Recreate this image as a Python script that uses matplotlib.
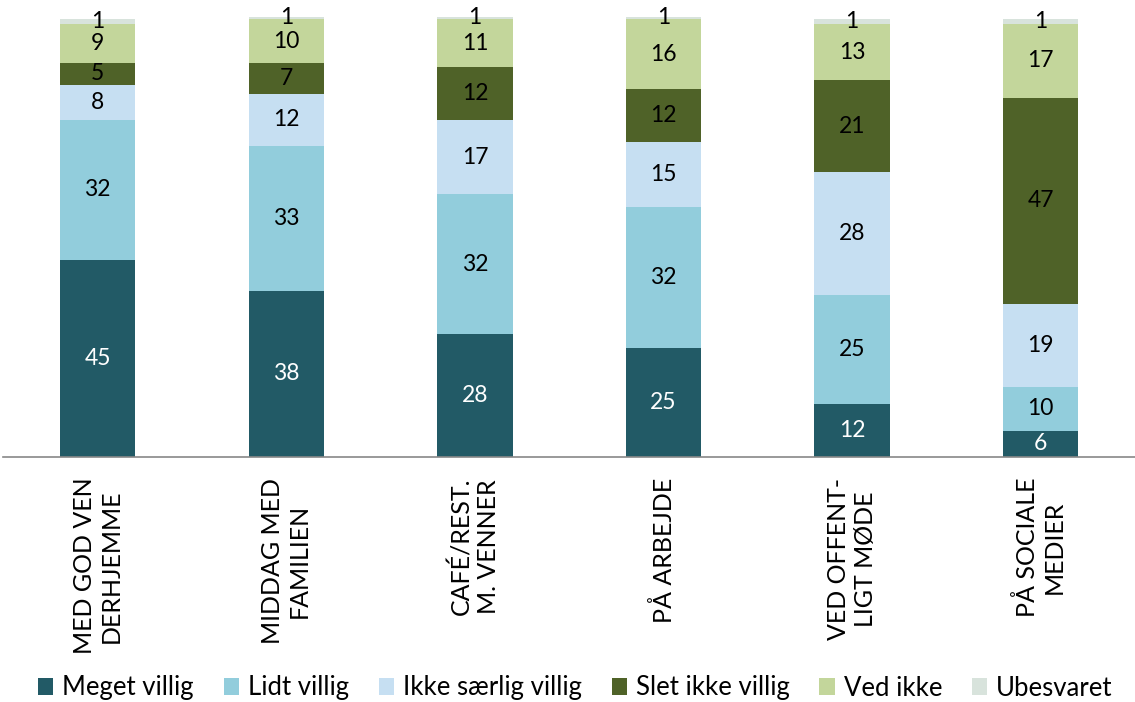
import numpy as np
import matplotlib.pyplot as plt

categories = ["MED GOD VEN\nDERHJEMME", "MIDDAG MED\nFAMILIEN", "CAFÉ/REST.\nM. VENNER",
              "PÅ ARBEJDE", "VED OFFENT-\nLIGT MØDE", "PÅ SOCIALE\nMEDIER"]
series = ["Meget villig", "Lidt villig", "Ikke særlig villig", "Slet ikke villig", "Ved ikke", "Ubesvaret"]
meget = [45, 38, 28, 25, 12, 6]
lidt = [32, 33, 32, 32, 25, 10]
ikke_saerlig = [8, 12, 17, 15, 28, 19]
slet_ikke = [5, 7, 12, 12, 21, 47]
ved_ikke = [9, 10, 11, 16, 13, 17]
ubesvaret = [1, 1, 1, 1, 1, 1]

colors = ["#225A66", "#92CDDC", "#C6DFF2", "#4F6228", "#C3D69B", "#D8E3DC"]
values = [meget, lidt, ikke_saerlig, slet_ikke, ved_ikke, ubesvaret]

plt.rcParams['font.family'] = ['Lato', 'DejaVu Sans']

fig = plt.figure(figsize=(11.35, 7.02), dpi=100)
ax = fig.add_axes([0.003, 1 - 457 / 702, 0.997, (457 - 17) / 702])

x = np.arange(len(categories))
bottom = np.zeros(len(categories))
handles = []
for name, vals, c in zip(series, values, colors):
    vals = np.array(vals, dtype=float)
    b = ax.bar(x, vals, 0.4, bottom=bottom, color=c, label=name)
    handles.append(b)
    txtcol = "white" if name == "Meget villig" else "black"
    for xi, v, bt in zip(x, vals, bottom):
        ax.text(xi, bt + v / 2, f"{int(v)}", ha="center", va="center",
                fontsize=16.5, color=txtcol)
    bottom += vals

ax.set_xlim(-0.5, 5.5)
ax.set_ylim(0, 100.5)
ax.set_yticks([])
ax.set_xticks(x)
ax.set_xticklabels(categories, rotation=90, fontsize=18, ha="center", va="top",
                   multialignment="center")
ax.tick_params(axis="x", length=0, pad=15)
for s in ["top", "right", "left"]:
    ax.spines[s].set_visible(False)
ax.spines["bottom"].set_color("#888888")
ax.spines["bottom"].set_linewidth(1.2)

fig.legend(handles=handles, labels=series, loc="center", bbox_to_anchor=(0.507, 1 - 688 / 702),
           ncol=6, frameon=False, handlelength=0.6, handleheight=0.6,
           handletextpad=0.35, columnspacing=1.15, fontsize=18.5)

fig.savefig("out.png", dpi=100)
